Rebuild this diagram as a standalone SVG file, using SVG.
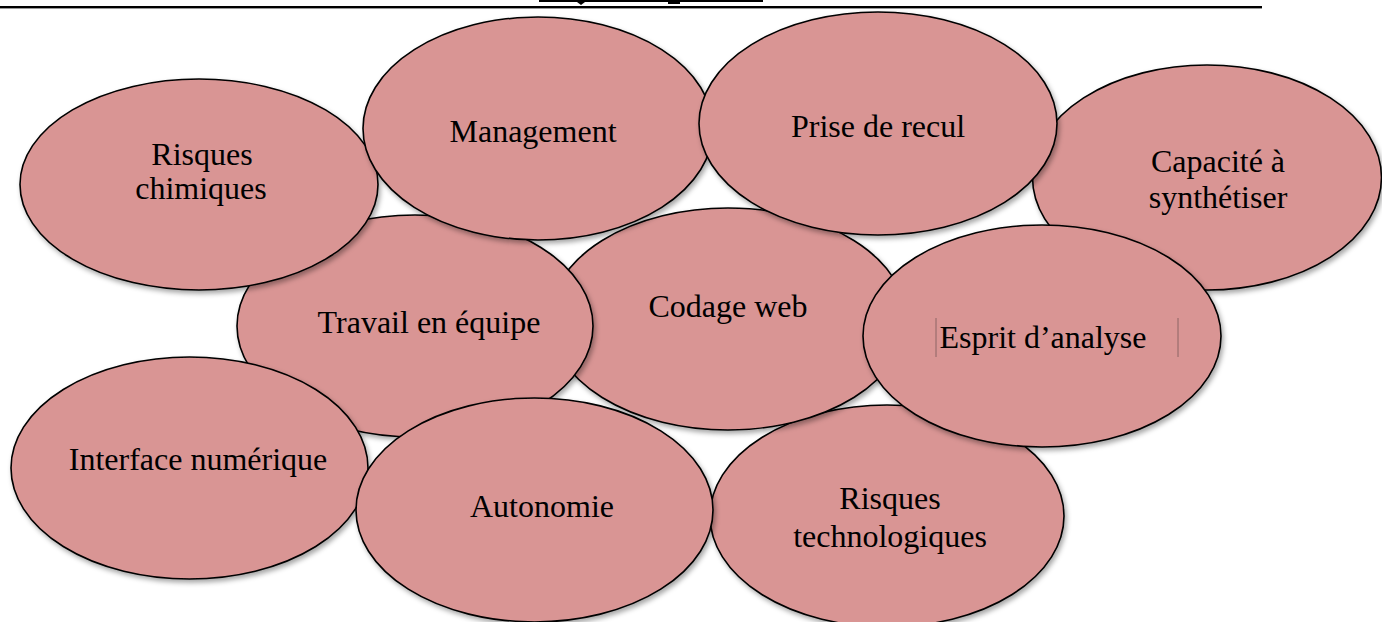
<svg xmlns="http://www.w3.org/2000/svg" width="1382" height="622" viewBox="0 0 1382 622">
<defs>
<filter id="sh" x="-10%" y="-10%" width="125%" height="130%">
<feDropShadow dx="2" dy="3" stdDeviation="2.5" flood-color="#000" flood-opacity="0.35"/>
</filter>
<style>
.e{fill:#d99594;stroke:#000;stroke-width:1.6;filter:url(#sh)}
.t{font-family:"Liberation Serif","Times New Roman",serif;font-size:32px;fill:#000;text-anchor:middle}
</style>
</defs>
<rect width="1382" height="622" fill="#fff"/>
<g id="header">
<rect x="539" y="0" width="224" height="2" fill="#000"/>
<path d="M577 2 L585 2 L581 5 Z" fill="#000"/>
<path d="M668 2 L680 2 L680 4 L668 4 Z" fill="#000"/>
<rect x="0" y="6" width="1262" height="2.4" fill="#000"/>
</g>
<g id="connectors"></g>
<g id="n-risques-tech"><ellipse class="e" cx="887" cy="516" rx="177" ry="111"/><text class="t" x="890" y="509">Risques</text><text class="t" x="890" y="547">technologiques</text></g>
<g id="n-codage"><ellipse class="e" cx="728" cy="319" rx="178" ry="111"/><text class="t" x="728" y="317">Codage web</text></g>
<g id="n-travail"><ellipse class="e" cx="415" cy="326" rx="178" ry="111"/><text class="t" x="429" y="333">Travail en équipe</text></g>
<g id="n-interface"><ellipse class="e" cx="189.5" cy="468" rx="178.5" ry="111"/><text class="t" x="198" y="470">Interface numérique</text></g>
<g id="n-autonomie"><ellipse class="e" cx="534.5" cy="510" rx="178.5" ry="112"/><text class="t" x="542" y="517">Autonomie</text></g>
<g id="n-risques-chim"><ellipse class="e" cx="199" cy="184.5" rx="179" ry="105.5"/><text class="t" x="202" y="165">Risques</text><text class="t" x="201" y="199">chimiques</text></g>
<g id="n-management"><ellipse class="e" cx="538" cy="128.5" rx="175" ry="111.5"/><text class="t" x="533" y="142">Management</text></g>
<g id="n-capacite"><ellipse class="e" cx="1207" cy="177.5" rx="174.5" ry="112.5"/><text class="t" x="1218" y="172">Capacité à</text><text class="t" x="1218" y="208">synthétiser</text></g>
<g id="n-esprit"><ellipse class="e" cx="1042" cy="336" rx="179" ry="111"/><text class="t" x="1043" y="348">Esprit d’analyse</text><line x1="936" y1="318" x2="936" y2="357" stroke="#8c6464" stroke-width="1"/><line x1="1178" y1="318" x2="1178" y2="357" stroke="#8c6464" stroke-width="1"/></g>
<g id="n-prise"><ellipse class="e" cx="878" cy="123.5" rx="179" ry="111.5"/><text class="t" x="878" y="137">Prise de recul</text></g>
</svg>
